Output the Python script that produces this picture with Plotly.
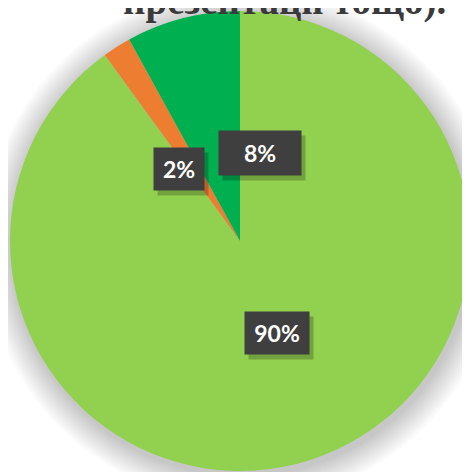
import plotly.graph_objects as go

# Data
categories = ["Так", "Ні", "Частково"]
values = [90, 2, 8]
colors = ["#92D050", "#ED7D31", "#00B050"]
title_text = "презентації тощо)."

OFF = 8  # page body margin
W, H = 470 - OFF, 472 - OFF
cx, cy, R = 240 - OFF, 241 - OFF, 230  # pie centre / radius in px

fig = go.Figure()
fig.add_trace(go.Pie(
    labels=categories, values=values, sort=False, direction="clockwise",
    rotation=0, marker=dict(colors=colors, line=dict(width=0)),
    textinfo="none", hoverinfo="label+percent", showlegend=False,
    domain=dict(x=[(cx - R) / W, 1.0], y=[(H - cy - R) / H, min(1.0, (H - cy + R) / H)]),
))

# soft shadow behind pie
shapes = []
for i in range(14):
    r = R + 2 + i * 2
    shapes.append(dict(
        type="circle", layer="below", xref="paper", yref="paper",
        xsizemode="pixel", ysizemode="pixel",
        xanchor=(cx + 2) / W, yanchor=1 - (cy + 4) / H,
        x0=-r, x1=r, y0=-r, y1=r,
        fillcolor="rgba(0,0,0,0.014)", line=dict(width=0),
    ))

# data label boxes (positions in px: centre x, centre y, box w, box h)
total = sum(values)
label_pos = {"Так": (277, 355, 60, 38), "Ні": (179, 147, 46, 38), "Частково": (260, 130, 78, 40)}
annotations = []
for cat, v in zip(categories, values):
    x, y, bw, bh = label_pos[cat]
    x, y = x - OFF, y - OFF
    pct = f"{round(100 * v / total)}%"
    # shadow
    annotations.append(dict(
        x=(x + 4) / W, y=1 - (y + 5) / H, xref="paper", yref="paper",
        text=" ", showarrow=False, width=bw, height=bh, borderpad=2,
        bgcolor="rgba(0,0,0,0.22)",
    ))
    annotations.append(dict(
        x=x / W, y=1 - y / H, xref="paper", yref="paper",
        text=f"<b>{pct}</b>", showarrow=False, width=bw, height=bh, borderpad=2,
        bgcolor="#3F3F3F", font=dict(family="Lato", size=23, color="white"),
    ))

annotations.append(dict(
    x=(284 - OFF) / W, y=1 - (-7) / H, xref="paper", yref="paper", yanchor="middle",
    text=f"<b>{title_text}</b>", showarrow=False,
    font=dict(family="Liberation Serif", size=39, color="#3A3A3A"),
))

fig.update_layout(
    width=W, height=H, margin=dict(l=0, r=0, t=0, b=0),
    paper_bgcolor="white", plot_bgcolor="white",
    shapes=shapes, annotations=annotations,
)
fig.write_html("out.html")
